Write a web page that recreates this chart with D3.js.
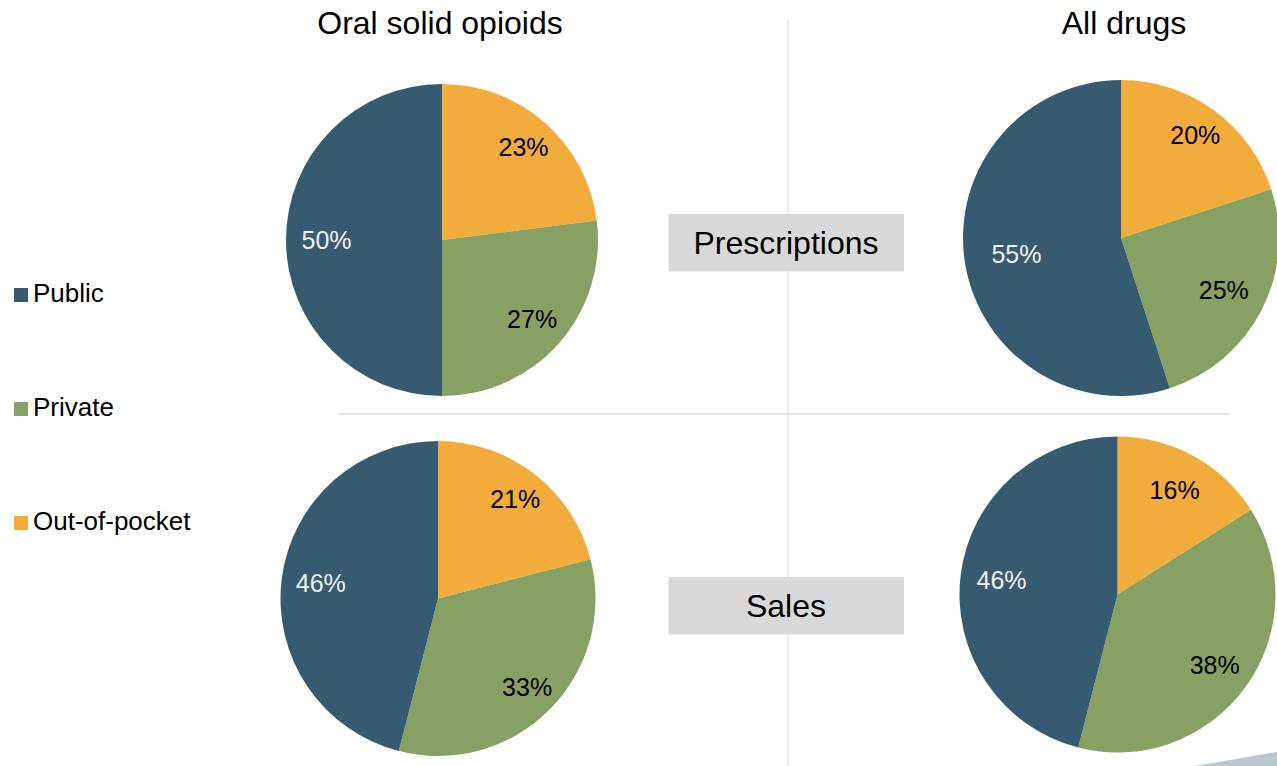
<!DOCTYPE html>
<html><head><meta charset="utf-8">
<script src="https://cdn.jsdelivr.net/npm/d3@7"></script>
<style>body{margin:0;background:#fff;}svg{display:block;font-family:"Liberation Sans",Arial,sans-serif;}</style>
</head><body><svg id="c" width="1277" height="766"></svg>
<script>
const categories = ["Out-of-pocket", "Private", "Public"];
const legendOrder = ["Public", "Private", "Out-of-pocket"];
const columns = ["Oral solid opioids", "All drugs"];
const rows = ["Prescriptions", "Sales"];
const opioidsPrescriptions = [23, 27, 50];
const allDrugsPrescriptions = [20, 25, 55];
const opioidsSales = [21, 33, 46];
const allDrugsSales = [16, 38, 46];

const colors = {"Public": "#365b70", "Private": "#87a063", "Out-of-pocket": "#f1ac3b"};
const labelColors = {"Public": "#f2f2f2", "Private": "#000", "Out-of-pocket": "#000"};

const svg = d3.select("#c");

// decorative corner shape
svg.append("polygon").attr("points", "1195,766 1277,752 1277,766").attr("fill", "#b9c9d0");

// divider lines
svg.append("line").attr("x1", 788).attr("x2", 788).attr("y1", 20).attr("y2", 766).attr("stroke", "#d9d9d9").attr("stroke-width", 1);
svg.append("line").attr("x1", 338).attr("x2", 1230).attr("y1", 414).attr("y2", 414).attr("stroke", "#d9d9d9").attr("stroke-width", 1.5);

const pies = [
  {vals: opioidsPrescriptions, cx: 442, cy: 240, r: 156, lr: [0.79, 0.77, 0.74]},
  {vals: allDrugsPrescriptions, cx: 1121, cy: 238, r: 158, lr: [0.8, 0.73, 0.67]},
  {vals: opioidsSales, cx: 438, cy: 598.5, r: 157.5, lr: [0.8, 0.8, 0.75]},
  {vals: allDrugsSales, cx: 1117.5, cy: 594.5, r: 158, lr: [0.75, 0.76, 0.74]}
];

const pie = d3.pie().sort(null).value(d => d.v);
pies.forEach(p => {
  const data = categories.map((c, i) => ({cat: c, v: p.vals[i], lr: p.lr[i]}));
  const arcs = pie(data);
  const arc = d3.arc().innerRadius(0).outerRadius(p.r);
  const g = svg.append("g").attr("transform", `translate(${p.cx},${p.cy})`);
  g.selectAll("path").data(arcs).join("path").attr("d", arc).attr("fill", d => colors[d.data.cat]);
  g.selectAll("text").data(arcs).join("text")
    .attr("transform", d => {
      const rr = p.r * d.data.lr;
      return `translate(${d3.arc().innerRadius(rr).outerRadius(rr).centroid(d)})`;
    })
    .attr("text-anchor", "middle").attr("dy", "0.35em")
    .attr("font-size", 25).attr("fill", d => labelColors[d.data.cat])
    .text(d => d.data.v + "%");
});

// column titles
const colX = [440, 1124];
svg.selectAll("text.col").data(columns).join("text").attr("class", "col")
  .attr("x", (d, i) => colX[i]).attr("y", 34).attr("text-anchor", "middle")
  .attr("font-size", 32).attr("fill", "#000").text(d => d);

// row label boxes
const rowY = [214, 577];
rows.forEach((r, i) => {
  svg.append("rect").attr("x", 668.5).attr("y", rowY[i]).attr("width", 235.5).attr("height", 57.5).attr("fill", "#d9d9d9");
  svg.append("text").attr("x", 786).attr("y", rowY[i] + 40).attr("text-anchor", "middle")
    .attr("font-size", 32).attr("fill", "#000").text(r);
});

// legend
const legY = [288, 402, 516];
legendOrder.forEach((c, i) => {
  svg.append("rect").attr("x", 14).attr("y", legY[i]).attr("width", 14).attr("height", 14).attr("fill", colors[c]);
  svg.append("text").attr("x", 33).attr("y", legY[i] + 14).attr("font-size", 26).attr("fill", "#000").text(c);
});
</script></body></html>
